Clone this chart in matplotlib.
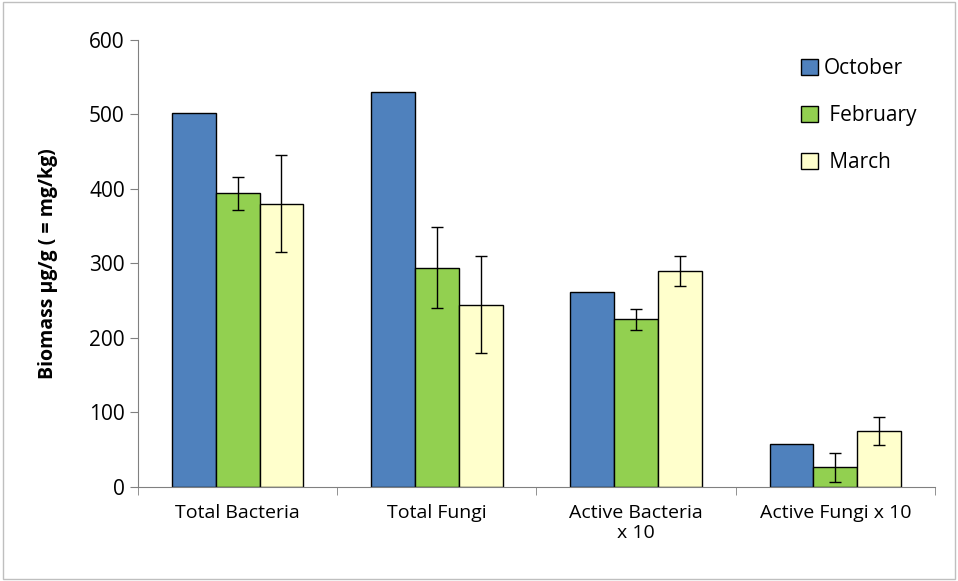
import matplotlib.pyplot as plt
import numpy as np

plt.rcParams['font.family'] = ['Open Sans', 'DejaVu Sans']

categories = ["Total Bacteria", "Total Fungi", "Active Bacteria\nx 10", "Active Fungi x 10"]
october = [502, 530, 262, 57]
february = [394, 294, 225, 26]
february_err = [22, 54, 14, 20]
march = [380, 244, 290, 75]
march_err = [65, 65, 20, 19]

fig = plt.figure(figsize=(9.58, 5.81), dpi=100)
ax = fig.add_axes([0.144, 0.162, 0.832, 0.77])
fig.patches.append(plt.Rectangle((0.003, 0.003), 0.994, 0.994, transform=fig.transFigure,
                                 fill=False, edgecolor='#bfbfbf', linewidth=1))

x = np.arange(len(categories))
w = 0.22
ax.bar(x - w, october, w, color='#4f81bd', edgecolor='black', linewidth=1, label='October')
ax.bar(x, february, w, color='#92d050', edgecolor='black', linewidth=1, label=' February',
       yerr=february_err, capsize=4, error_kw=dict(elinewidth=1, capthick=1))
ax.bar(x + w, march, w, color='#ffffcc', edgecolor='black', linewidth=1, label=' March',
       yerr=march_err, capsize=4, error_kw=dict(elinewidth=1, capthick=1))

ax.set_xlim(-0.5, 3.5)
ax.set_ylim(0, 600)
ax.set_yticks(range(0, 601, 100))
ax.set_xticks(x)
ax.set_xticklabels(categories, fontsize=14)
ax.set_xticks(np.arange(-0.5, 3.6, 1), minor=True)
ax.tick_params(axis='x', which='major', length=0, pad=12)
ax.tick_params(axis='x', which='minor', length=6, direction='out', color='#808080')
ax.tick_params(axis='y', labelsize=15, length=6, color='#808080')
for s in ['top', 'right']:
    ax.spines[s].set_visible(False)
for s in ['left', 'bottom']:
    ax.spines[s].set_color('#808080')
ax.set_ylabel("Biomass µg/g ( = mg/kg)", fontsize=14, fontweight='bold')
ax.yaxis.set_label_coords(-0.10, 0.5)
ax.legend(loc='upper right', frameon=False, fontsize=15, handlelength=0.8, handleheight=0.8,
          labelspacing=1.25, handletextpad=0.3, bbox_to_anchor=(1.0, 1.0))
fig.savefig('out.png')
